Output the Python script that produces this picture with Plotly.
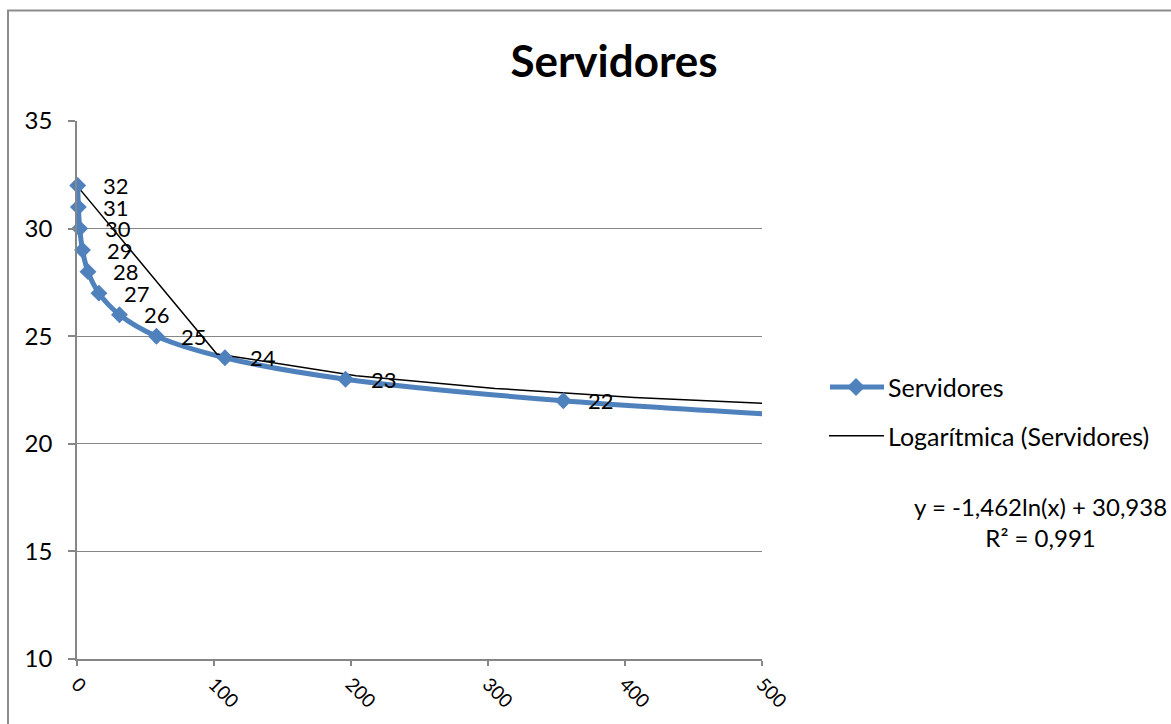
import numpy as np
import plotly.graph_objects as go

# Servidores data (x, y) and the logarithmic fit reported by the trendline label
x_vals = [0.5, 1, 2, 4, 8, 16, 31, 58, 108, 196, 355, 610]
y_vals = [32, 31, 30, 29, 28, 27, 26, 25, 24, 23, 22, 21]
fit_a = -1.462
fit_b = 30.938
r2 = 0.991

x_ticks = [0, 100, 200, 300, 400, 500]
y_ticks = [10, 15, 20, 25, 30, 35]
X_MAX = 500
Y_MIN, Y_MAX = 10, 35

W, H = 1171, 724
ML, MR, MT, MB = 77, W - 762, 121, H - 661
PW, PH = W - ML - MR, H - MT - MB

BLUE = "#4F81BD"
GRID = "#868686"
FONT = "Lato, 'Open Sans', Arial, sans-serif"


def px(x):
    return (x - ML) / PW


def py(y):
    return (H - MB - y) / PH


fig = go.Figure()

# Smoothed series line (clipped to the plot area)
fig.add_trace(go.Scatter(
    x=x_vals, y=y_vals, mode="lines",
    line=dict(color=BLUE, width=5, shape="spline", smoothing=0.9),
    showlegend=False, hoverinfo="skip",
))

# Trendline sampled along the data span, straight segments between samples
tx = np.linspace(min(x_vals), max(x_vals), 7)
ty = fit_a * np.log(tx) + fit_b
fig.add_trace(go.Scatter(
    x=tx, y=ty, mode="lines",
    line=dict(color="black", width=1.5),
    showlegend=False, hoverinfo="skip",
))

# Diamond markers for the points inside the visible range
vis = [(x, y) for x, y in zip(x_vals, y_vals) if x <= X_MAX]
fig.add_trace(go.Scatter(
    x=[p[0] for p in vis], y=[p[1] for p in vis], mode="markers",
    marker=dict(symbol="diamond", size=13, color=BLUE, line=dict(width=0)),
    cliponaxis=False, showlegend=False,
))

annotations = []
for x, y in vis:
    annotations.append(dict(
        x=x, y=y, xref="x", yref="y", text=str(y), showarrow=False,
        xanchor="left", yanchor="middle", xshift=23,
        font=dict(family=FONT, size=22, color="black"),
    ))

# Legend drawn by hand
shapes = []
annotations.append(dict(
    x=px(886), y=py(388), xref="paper", yref="paper", text="Servidores",
    showarrow=False, xanchor="left", yanchor="middle",
    font=dict(family=FONT, size=25, color="black"),
))
annotations.append(dict(
    x=px(886), y=py(437), xref="paper", yref="paper",
    text="Logarítmica (Servidores)",
    showarrow=False, xanchor="left", yanchor="middle",
    font=dict(family=FONT, size=25, color="black"),
))
shapes.append(dict(type="line", xref="paper", yref="paper",
                   x0=px(830), x1=px(884), y0=py(388), y1=py(388),
                   line=dict(color=BLUE, width=5)))
cx, cy, r = 856, 388, 9
shapes.append(dict(
    type="path", xref="paper", yref="paper",
    path=(f"M {px(cx - r)} {py(cy)} L {px(cx)} {py(cy - r)} "
          f"L {px(cx + r)} {py(cy)} L {px(cx)} {py(cy + r)} Z"),
    fillcolor=BLUE, line=dict(width=0),
))
shapes.append(dict(type="line", xref="paper", yref="paper",
                   x0=px(829), x1=px(884), y0=py(437), y1=py(437),
                   line=dict(color="black", width=1.5)))

# Equation and R² label
eq = f"y = {fit_a:.3f}ln(x) + {fit_b:.3f}".replace(".", ",")
r2_txt = f"R² = {r2:.3f}".replace(".", ",")
annotations.append(dict(
    x=px(1040), y=py(523), xref="paper", yref="paper",
    text=f"{eq}<br>{r2_txt}", showarrow=False, align="center",
    xanchor="center", yanchor="middle",
    font=dict(family=FONT, size=24, color="black"),
))

# Chart border
shapes.append(dict(type="rect", xref="paper", yref="paper",
                   x0=px(8), x1=px(1200), y0=py(10), y1=py(760),
                   line=dict(color="#8c8c8c", width=2), layer="below"))

fig.update_layout(
    width=W, height=H,
    margin=dict(l=ML, r=MR, t=MT, b=MB),
    paper_bgcolor="white", plot_bgcolor="white",
    title=dict(text="<b>Servidores</b>", x=614 / W, xanchor="center",
               y=1 - 62 / H, yanchor="middle",
               font=dict(family=FONT, size=44, color="black")),
    font=dict(family=FONT, color="black"),
    xaxis=dict(range=[0, X_MAX], tickvals=x_ticks, tickangle=45,
               showgrid=False, zeroline=False, showline=True,
               linecolor=GRID, linewidth=1.5, ticks="outside",
               ticklen=5, tickcolor=GRID, tickwidth=1.5,
               tickfont=dict(family=FONT, size=19, color="black")),
    yaxis=dict(range=[Y_MIN, Y_MAX], tickvals=y_ticks, showgrid=True,
               gridcolor=GRID, gridwidth=1, zeroline=False, showline=True,
               linecolor=GRID, linewidth=1.5, ticks="outside", ticklen=7,
               tickcolor=GRID, tickwidth=1.5, ticklabelstandoff=11,
               tickfont=dict(family=FONT, size=24, color="black")),
    shapes=shapes, annotations=annotations, showlegend=False,
)

fig.write_html("out.html")
